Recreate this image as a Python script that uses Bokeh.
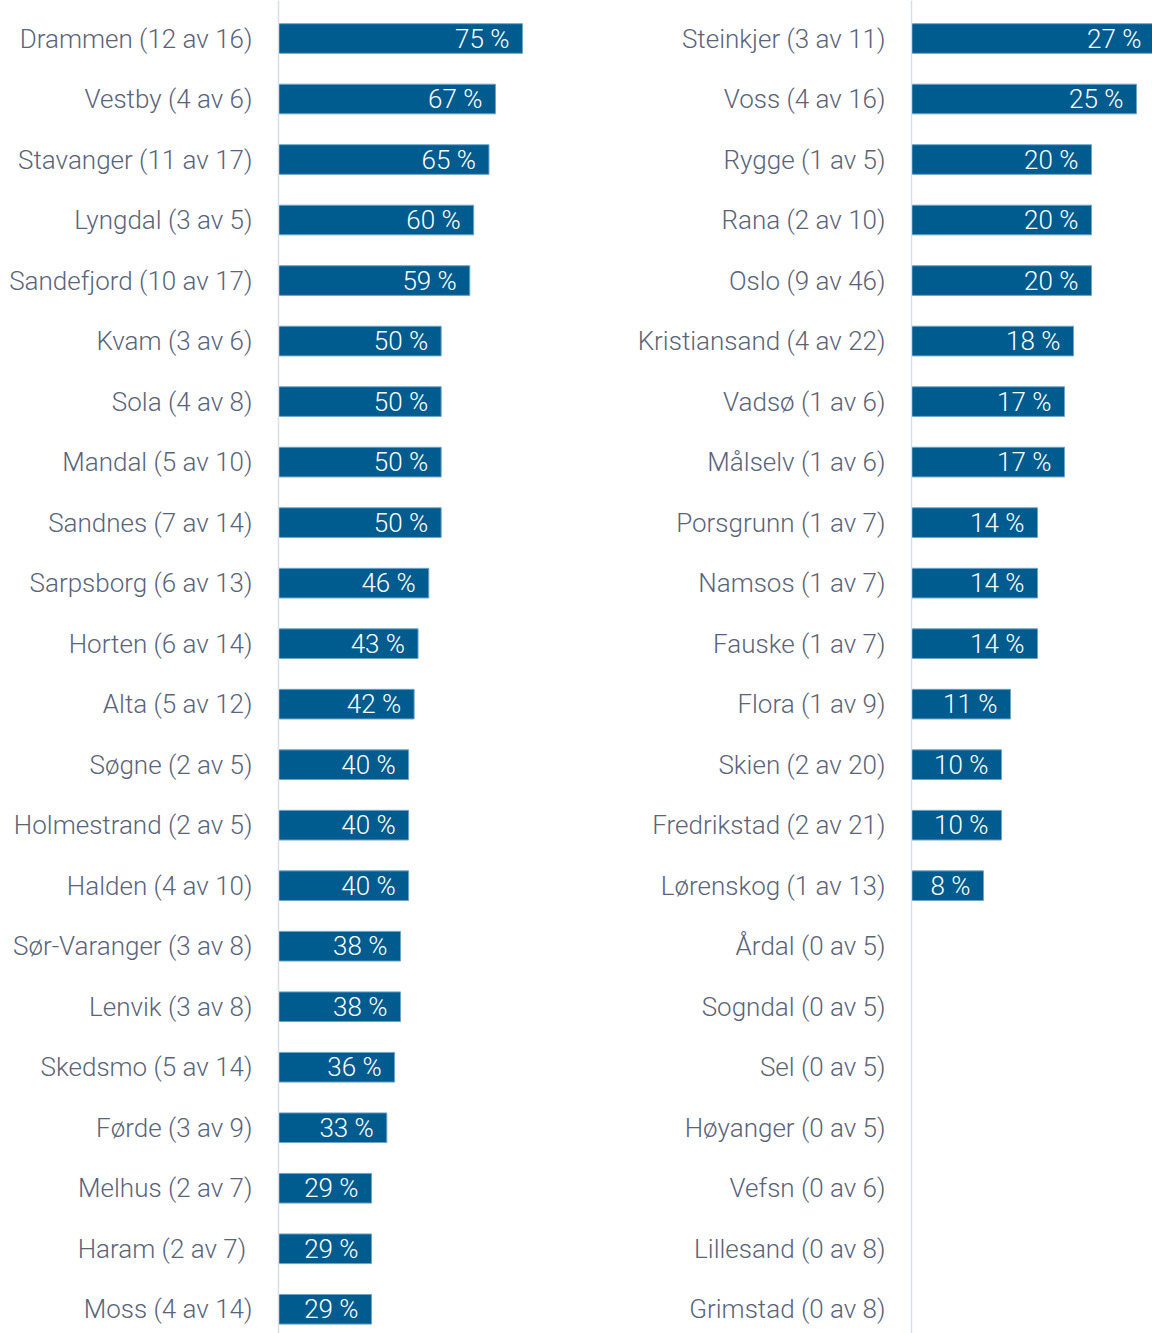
from bokeh.plotting import figure
from bokeh.layouts import row
from bokeh.models import Range1d, FixedTicker, ColumnDataSource
from bokeh.core.properties import value
from bokeh.embed import file_html
from bokeh.resources import INLINE

left_names = ["Drammen (12 av 16)", "Vestby (4 av 6)", "Stavanger (11 av 17)", "Lyngdal (3 av 5)",
              "Sandefjord (10 av 17)", "Kvam (3 av 6)", "Sola (4 av 8)", "Mandal (5 av 10)",
              "Sandnes (7 av 14)", "Sarpsborg (6 av 13)", "Horten (6 av 14)", "Alta (5 av 12)",
              "Søgne (2 av 5)", "Holmestrand (2 av 5)", "Halden (4 av 10)", "Sør-Varanger (3 av 8)",
              "Lenvik (3 av 8)", "Skedsmo (5 av 14)", "Førde (3 av 9)", "Melhus (2 av 7)",
              "Haram  (2 av 7)", "Moss (4 av 14)"]
left_pct = [75.0, 66.7, 64.7, 60.0, 58.8, 50.0, 50.0, 50.0, 50.0, 46.2, 42.9, 41.7,
            40.0, 40.0, 40.0, 37.5, 37.5, 35.7, 33.3, 28.6, 28.6, 28.6]

right_names = ["Steinkjer (3 av 11)", "Voss (4 av 16)", "Rygge (1 av 5)", "Rana (2 av 10)",
               "Oslo (9 av 46)", "Kristiansand (4 av 22)", "Vadsø (1 av 6)", "Målselv (1 av 6)",
               "Porsgrunn (1 av 7)", "Namsos (1 av 7)", "Fauske (1 av 7)", "Flora (1 av 9)",
               "Skien (2 av 20)", "Fredrikstad (2 av 21)", "Lørenskog (1 av 13)", "Årdal (0 av 5)",
               "Sogndal (0 av 5)", "Sel (0 av 5)", "Høyanger (0 av 5)", "Vefsn (0 av 6)",
               "Lillesand (0 av 8)", "Grimstad (0 av 8)"]
right_pct = [27.0, 25.0, 20.0, 20.0, 20.0, 18.0, 17.0, 17.0, 14.0, 14.0, 14.0, 11.0,
             10.0, 10.0, 8.0, 0, 0, 0, 0, 0, 0, 0]

BAR = "#005b8f"
LABEL = "#596479"
FONT = "Roboto Light"


def make(names, pct, xmax, width, border_left):
    n = len(names)
    idx = list(range(n))
    p = figure(width=width, height=1333, output_backend="svg", toolbar_location=None,
               x_range=Range1d(0, xmax), y_range=Range1d(21.40, -0.628),
               x_axis_location=None, min_border_left=border_left, min_border_right=0,
               min_border_top=0, min_border_bottom=0)
    p.outline_line_color = None
    p.xgrid.visible = False
    p.ygrid.visible = False
    p.background_fill_color = "white"
    p.border_fill_color = "white"

    src = ColumnDataSource(dict(y=idx, v=pct))
    p.hbar(y="y", right="v", left=0, height=0.49, source=src,
           fill_color=BAR, line_color="#6fa3c8", line_width=1)

    ly = [i for i, v in zip(idx, pct) if v > 0]
    lv = [v for v in pct if v > 0]
    lt = [f"{round(v)} %" for v in lv]
    p.text(x=lv, y=ly, text=lt, x_offset=-13, text_align="right", text_baseline="middle",
           text_color="white", text_font_size="26px", text_font=value(FONT))

    ax = p.yaxis[0]
    ax.ticker = FixedTicker(ticks=idx)
    ax.major_label_overrides = {i: nm for i, nm in zip(idx, names)}
    ax.axis_line_color = "#d9dde4"
    ax.axis_line_width = 1.5
    ax.major_tick_line_color = None
    ax.minor_tick_line_color = None
    ax.major_tick_out = 0
    ax.major_tick_in = 0
    ax.major_label_standoff = 26
    ax.major_label_text_font_size = "26px"
    ax.major_label_text_color = LABEL
    ax.major_label_text_font = FONT
    return p


p1 = make(left_names, left_pct, 300 / 3.253, 578, 278)
p2 = make(right_names, right_pct, 241 / 9.0, 574, 333)
layout = row(p1, p2)

open("out.html", "w").write(file_html(layout, INLINE))
